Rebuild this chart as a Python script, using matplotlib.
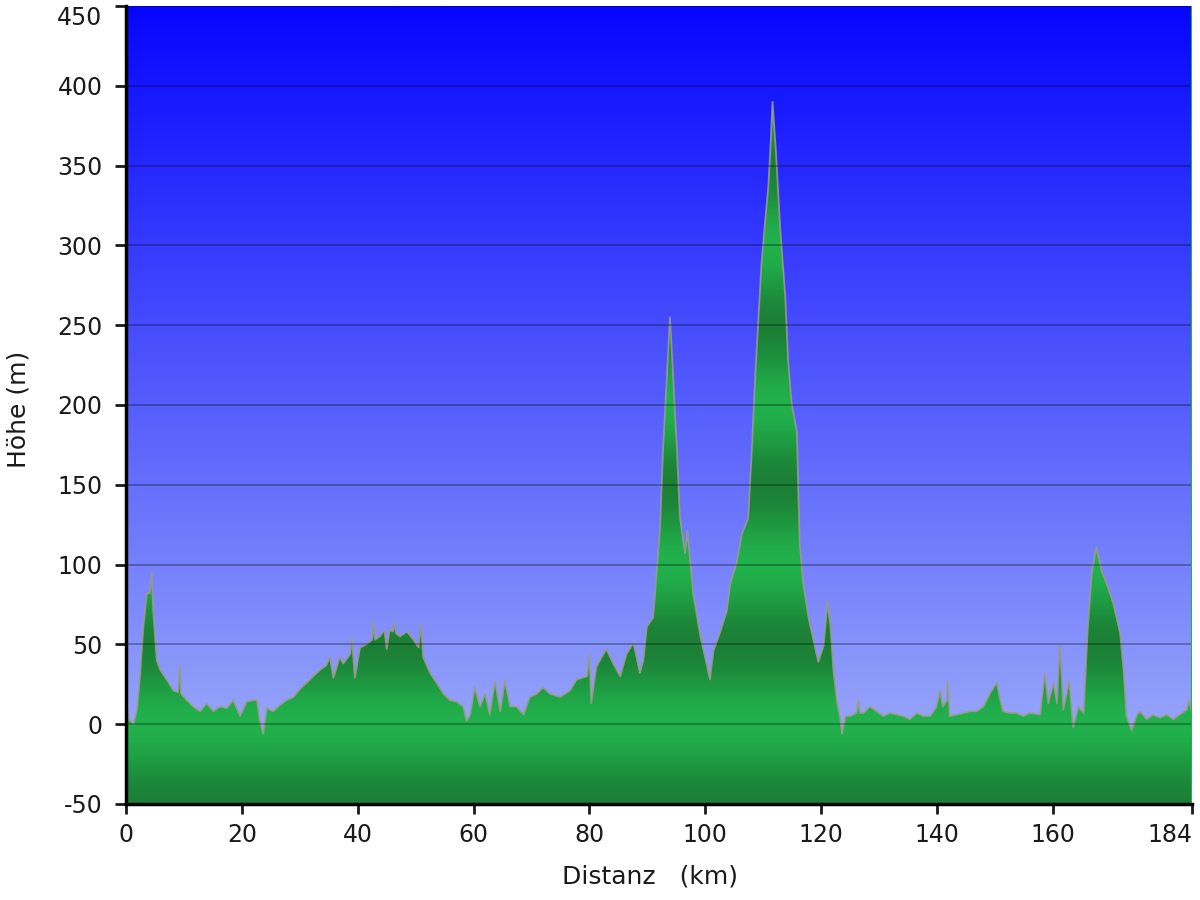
import numpy as np
import matplotlib
matplotlib.use('Agg')
import matplotlib.pyplot as plt
from matplotlib.patches import Polygon

plt.rcParams['axes.unicode_minus'] = False

# elevation profile (km, m)
km = [0.0, 0.5, 1.3, 1.9, 2.4, 3.0, 3.6, 4.1, 4.4, 4.7, 5.3, 5.9, 7.0, 8.2, 9.0, 9.3, 9.5,
      10.5, 11.6, 12.8, 13.9, 15.1, 16.2, 17.4, 18.5, 19.7, 20.8, 22.0, 22.6, 23.1, 23.7,
      24.3, 25.4, 26.6, 27.7, 28.9, 30.0, 31.2, 32.3, 33.5, 34.6, 35.2, 35.8, 36.9, 37.5,
      38.7, 39.0, 39.5, 40.4, 41.5, 42.5, 42.7, 43.0, 43.8, 44.6, 45.0, 45.5, 46.1, 46.3,
      46.6, 47.3, 48.5, 49.6, 50.5, 50.9, 51.3, 52.5, 53.6, 54.8, 55.9, 57.1, 58.2, 58.8,
      59.4, 60.2, 61.1, 62.0, 62.8, 63.7, 64.6, 65.4, 66.3, 67.4, 68.6, 69.7, 70.9, 72.0,
      73.2, 74.9, 76.6, 77.8, 79.6, 80.0, 80.3, 81.2, 82.9, 84.1, 85.3, 86.4, 87.6, 88.7,
      89.3, 89.9, 91.0, 91.6, 92.2, 92.7, 93.3, 93.9, 94.5, 95.1, 95.6, 96.5, 96.9, 97.9,
      99.1, 100.2, 100.8, 101.4, 102.5, 103.1, 103.7, 104.3, 105.4, 106.3, 107.4, 108.0,
      108.6, 109.2, 109.7, 110.3, 110.9, 111.3, 111.6, 112.2, 112.9, 113.8, 114.3, 114.9,
      115.8, 116.1, 116.3, 116.9, 117.8, 118.7, 119.5, 120.4, 121.1, 121.6, 122.1, 122.7,
      123.3, 123.6, 124.2, 125.0, 126.1, 126.4, 126.7, 127.3, 128.4, 129.6, 130.7, 131.9,
      133.0, 134.2, 135.3, 136.5, 137.6, 138.8, 139.9, 140.5, 141.0, 141.7, 141.8, 142.2,
      143.4, 144.5, 145.7, 146.8, 148.0, 149.1, 150.3, 150.9, 151.4, 152.6, 153.7, 154.9,
      156.0, 157.8, 158.6, 159.2, 160.1, 160.7, 161.2, 161.8, 162.8, 163.5, 164.4, 165.3,
      166.0, 166.7, 167.5, 168.4, 169.3, 170.4, 171.6, 172.2, 172.7, 173.6, 174.4, 175.0,
      176.2, 177.3, 178.5, 179.6, 180.8, 181.9, 183.1, 183.5, 184.0]
hoehe = [15, 3, 0, 9, 29, 61, 82, 82, 95, 71, 40, 34, 28, 21, 20, 37, 19,
         15, 11, 8, 13, 8, 11, 10, 15, 5, 14, 15, 15, 2, -6,
         10, 8, 12, 15, 17, 22, 26, 30, 34, 37, 42, 29, 42, 38,
         44, 54, 29, 48, 50, 53, 64, 53, 55, 59, 47, 59, 58, 64,
         57, 55, 58, 53, 48, 63, 42, 32, 26, 19, 15, 14, 11, 2,
         6, 23, 11, 19, 6, 27, 8, 27, 11, 11, 6, 17, 19, 23,
         19, 17, 21, 28, 30, 44, 13, 36, 47, 38, 30, 44, 51, 32,
         40, 61, 67, 95, 124, 172, 213, 255, 213, 172, 130, 107, 121, 82,
         56, 38, 28, 46, 57, 64, 71, 88, 101, 119, 129, 170,
         217, 256, 289, 314, 338, 366, 390, 358, 312, 268, 227, 201,
         183, 139, 113, 88, 67, 52, 39, 49, 77, 62, 34, 15,
         3, -6, 5, 5, 7, 15, 7, 7, 11, 8, 5, 7,
         6, 5, 3, 7, 5, 5, 11, 21, 11, 15, 27, 5,
         6, 7, 8, 8, 11, 19, 26, 15, 8, 7, 7, 5,
         7, 6, 32, 13, 26, 13, 50, 9, 27, -2, 11, 7,
         59, 94, 111, 96, 88, 76, 57, 34, 5, -4, 5, 8,
         3, 6, 4, 6, 3, 6, 9, 15, 7]

x_ticks = [0, 20, 40, 60, 80, 100, 120, 140, 160, 184]
y_ticks = list(range(-50, 451, 50))
x_min, x_max = 0, 184
y_min, y_max = -50, 450

fig = plt.figure(figsize=(12, 9), dpi=100)
ax = fig.add_axes([0.105, 0.1067, 0.8883, 0.8866])

# blue sky gradient
t = np.linspace(0, 1, 400)[:, None]
top = np.array([5, 5, 255]) / 255
bottom = np.array([166, 182, 250]) / 255
sky = top + t[..., None] * (bottom - top)
sky = np.repeat(sky, 2, axis=1)
ax.imshow(sky, extent=[x_min, x_max, y_min, y_max], origin='upper',
          aspect='auto', zorder=0, interpolation='bilinear')

# green banded gradient, clipped to the profile
v = np.linspace(y_max, y_min, 800)
w = (1 - np.cos(2 * np.pi * v / 100)) / 2
hell = np.array([34, 177, 76]) / 255
dunkel = np.array([27, 128, 54]) / 255
gruen = hell + w[:, None] * (dunkel - hell)
gruen = np.repeat(gruen[:, None, :], 2, axis=1)
img = ax.imshow(gruen, extent=[x_min, x_max, y_min, y_max], origin='upper',
                aspect='auto', zorder=1, interpolation='bilinear')
verts = list(zip(km, hoehe)) + [(km[-1], y_min), (km[0], y_min)]
poly = Polygon(verts, closed=True, facecolor='none', edgecolor='none')
ax.add_patch(poly)
img.set_clip_path(poly)

ax.plot(km, hoehe, color='#9c9c8c', lw=1.3, alpha=0.85, zorder=2)
ax.axvline(184, color='#22b14c', lw=1.5, zorder=4)

ax.set_xlim(x_min, x_max)
ax.set_ylim(y_min, y_max)
ax.set_xticks(x_ticks)
ax.set_yticks(y_ticks)

ax.set_axisbelow(False)
ax.grid(axis='y', color='black', alpha=0.3, lw=1.3)
ax.grid(axis='x', visible=False)

for s in ['top', 'right']:
    ax.spines[s].set_visible(False)
for s in ['left', 'bottom']:
    ax.spines[s].set_linewidth(2.5)
    ax.spines[s].set_zorder(5)

ax.tick_params(axis='y', direction='out', length=8, width=2, pad=9,
               labelsize=17, colors='#1a1a1a')
ax.tick_params(axis='x', direction='out', length=7, width=2, pad=7,
               labelsize=17, colors='#1a1a1a')
# end labels kept inside the figure
ax.get_xticklabels()[-1].set_horizontalalignment('right')
ax.get_yticklabels()[-1].set_verticalalignment('top')

ax.set_xlabel('Distanz   (km)', fontsize=18, color='#1a1a1a')
ax.set_ylabel('Höhe (m)', fontsize=18, color='#1a1a1a')
ax.xaxis.set_label_coords(0.4916, -0.0915)
ax.xaxis.label.set_verticalalignment('center')
ax.yaxis.set_label_coords(-0.101, 0.494)
ax.yaxis.label.set_verticalalignment('center')

fig.savefig('out.png', dpi=100)
